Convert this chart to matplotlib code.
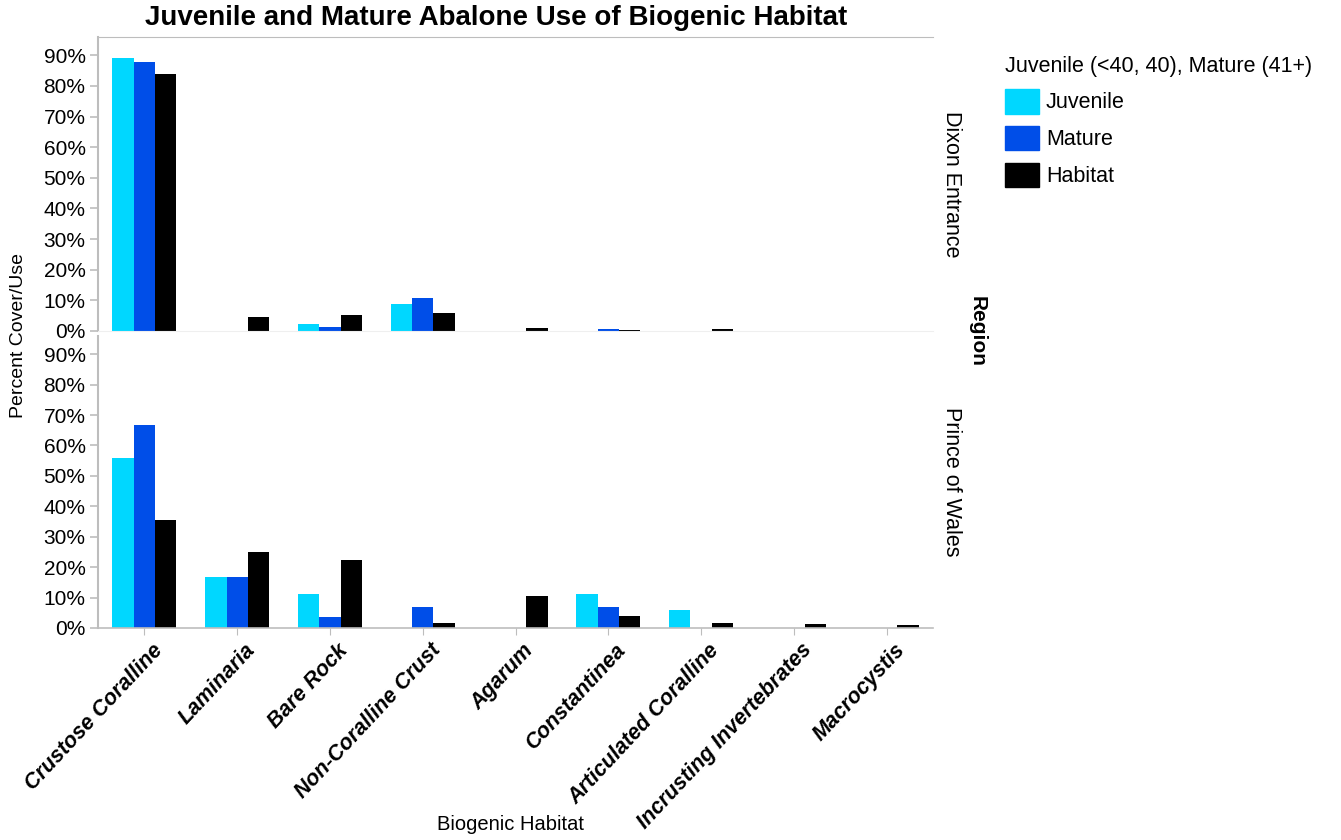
import matplotlib
matplotlib.use("Agg")
import matplotlib.pyplot as plt
import matplotlib.patches as mpatches
import matplotlib.transforms as mtransforms
import numpy as np

plt.rcParams['font.family'] = ['Liberation Sans', 'DejaVu Sans']

# habitat categories on the x axis
habitats = ["Crustose Coralline", "Laminaria", "Bare Rock", "Non-Coralline Crust",
            "Agarum", "Constantinea", "Articulated Coralline",
            "Incrusting Invertebrates", "Macrocystis"]
series = ["Juvenile", "Mature", "Habitat"]
colors = ["#00d7ff", "#004ee8", "#000000"]

# Dixon Entrance (fractions)
dixon_juv = [0.892, 0, 0.023, 0.088, 0, 0, 0, 0, 0]
dixon_mat = [0.879, 0, 0.013, 0.106, 0, 0.008, 0, 0, 0]
dixon_hab = [0.840, 0.045, 0.052, 0.058, 0.009, 0.003, 0.006, 0, 0]

# Prince of Wales (fractions)
pow_juv = [0.558, 0.169, 0.113, 0, 0, 0.113, 0.058, 0, 0]
pow_mat = [0.669, 0.169, 0.035, 0.068, 0, 0.068, 0, 0, 0]
pow_hab = [0.355, 0.249, 0.224, 0.016, 0.104, 0.039, 0.016, 0.012, 0.009]

regions = ["Dixon Entrance", "Prince of Wales"]
data = [[dixon_juv, dixon_mat, dixon_hab], [pow_juv, pow_mat, pow_hab]]

fig = plt.figure(figsize=(13.41, 8.4), dpi=100)
ax_top = fig.add_axes([0.0731, 0.606, 0.6227, 0.35])
ax_bot = fig.add_axes([0.0731, 0.2524, 0.6227, 0.3476])
axes = [ax_top, ax_bot]

x = np.arange(len(habitats))
w = 0.23
grey = "#bdbdbd"
for ax, vals, reg in zip(axes, data, regions):
    for i, (v, c) in enumerate(zip(vals, colors)):
        ax.bar(x + (i - 1) * w, v, width=w, color=c, linewidth=0)
    ax.set_xlim(-0.5, len(habitats) - 0.5)
    ax.set_ylim(0, 0.96)
    ticks = np.arange(0, 0.91, 0.1)
    ax.set_yticks(ticks)
    ax.set_yticklabels([f"{int(round(t*100))}%" for t in ticks], fontsize=15)
    ax.tick_params(axis='y', colors=grey, labelcolor="black", length=6, width=1.2, pad=3)
    ax.spines["right"].set_visible(False)
    ax.spines["left"].set_color(grey)
    ax.spines["left"].set_linewidth(1.5)
    ax.text(1.01, 0.5, reg, transform=ax.transAxes, rotation=-90,
            ha="left", va="center", fontsize=15.5)

ax_top.spines["top"].set_color(grey)
ax_top.spines["bottom"].set_color("#efefef")
ax_top.set_xticks([])
ax_bot.spines["top"].set_visible(False)
ax_bot.spines["bottom"].set_color(grey)
ax_bot.spines["bottom"].set_linewidth(1.2)
ax_bot.set_xticks(x)
ax_bot.set_xticklabels(habitats, rotation=47, ha="right", rotation_mode="anchor",
                       fontsize=15.5, fontweight="bold", fontstyle="italic")
ax_bot.tick_params(axis='x', colors=grey, labelcolor="black", length=5)
shift = mtransforms.ScaledTranslation(0.07, 0, fig.dpi_scale_trans)
for lab in ax_bot.get_xticklabels():
    lab.set_transform(lab.get_transform() + shift)

fig.text(0.381, 0.018, "Biogenic Habitat", ha="center", va="center", fontsize=14.5)
fig.text(0.37, 0.979, "Juvenile and Mature Abalone Use of Biogenic Habitat",
         ha="center", va="center", fontsize=20, fontweight="bold")
fig.text(0.0135, 0.601, "Percent Cover/Use", rotation=90, ha="center", va="center", fontsize=14)
fig.text(0.729, 0.606, "Region", rotation=-90, ha="center", va="center",
         fontsize=15, fontweight="bold")

handles = [mpatches.Patch(color=c, label=s) for s, c in zip(series, colors)]
leg = fig.legend(handles=handles, title="Juvenile (<40, 40), Mature (41+)",
                 loc="upper left", bbox_to_anchor=(0.743, 0.944), frameon=False,
                 fontsize=15.5, title_fontsize=15.5, handlelength=1.6, handleheight=1.4,
                 handletextpad=0.3, labelspacing=0.56, borderaxespad=0)
leg._legend_box.align = "left"

fig.savefig("out.png", dpi=100)
